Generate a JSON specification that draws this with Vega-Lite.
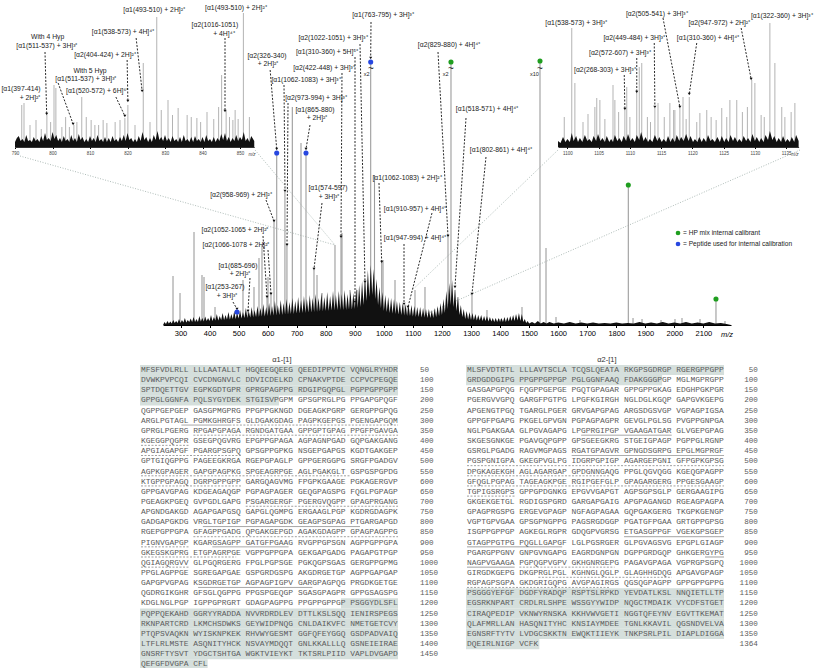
{
"$schema":"https://vega.github.io/schema/vega-lite/v6.json",
"width":817,"height":668,"autosize":"none","padding":0,"background":"white",
"config":{"view":{"stroke":null},"text":{"font":"Liberation Sans"}},
"datasets":{
"mainPeaks":[{"mz":274.2,"h":49},{"mz":298.3,"h":32},{"mz":346.5,"h":93},{"mz":374.0,"h":50},{"mz":380.9,"h":48},{"mz":418.8,"h":18},{"mz":494.5,"h":13},{"mz":515.1,"h":45},{"mz":532.4,"h":13},{"mz":553.0,"h":38},{"mz":570.2,"h":67},{"mz":580.5,"h":80},{"mz":597.8,"h":27},{"mz":601.2,"h":48},{"mz":611.5,"h":30},{"mz":621.9,"h":105},{"mz":631.2,"h":172},{"mz":659.5,"h":133},{"mz":666.4,"h":79},{"mz":684.9,"h":218},{"mz":714.8,"h":182},{"mz":732.0,"h":172},{"mz":759.5,"h":55},{"mz":769.9,"h":50},{"mz":787.1,"h":32},{"mz":831.8,"h":80},{"mz":852.5,"h":87},{"mz":855.9,"h":92},{"mz":883.5,"h":35},{"mz":900.7,"h":22},{"mz":907.6,"h":35},{"mz":935.1,"h":42},{"mz":954.7,"h":262},{"mz":967.8,"h":150},{"mz":992.6,"h":62},{"mz":997.1,"h":65},{"mz":1038.4,"h":45},{"mz":1069.4,"h":20},{"mz":1083.1,"h":17},{"mz":1107.2,"h":35},{"mz":1141.6,"h":38},{"mz":1220.8,"h":88},{"mz":1231.1,"h":262},{"mz":1244.9,"h":35},{"mz":1255.2,"h":28},{"mz":1303.4,"h":30},{"mz":1355.0,"h":15},{"mz":1399.8,"h":6},{"mz":1475.5,"h":18},{"mz":1537.5,"h":263},{"mz":1558.2,"h":77},{"mz":1592.6,"h":8},{"mz":1675.2,"h":5},{"mz":1841.5,"h":140},{"mz":1857.7,"h":7},{"mz":1888.7,"h":6},{"mz":1954.1,"h":5},{"mz":2002.2,"h":6},{"mz":2026.3,"h":7},{"mz":2088.3,"h":6},{"mz":2143.3,"h":26},{"mz":2174.3,"h":4}],
"mainNoise":[{"mz":240,"h":0},{"mz":245,"h":3},{"mz":250,"h":1},{"mz":255,"h":4},{"mz":260,"h":1.5},{"mz":265,"h":3.5},{"mz":270,"h":1.5},{"mz":275,"h":5},{"mz":280,"h":2},{"mz":285,"h":4},{"mz":290,"h":2},{"mz":295,"h":6},{"mz":300,"h":2},{"mz":305,"h":5},{"mz":310,"h":2.5},{"mz":315,"h":7},{"mz":320,"h":2.5},{"mz":325,"h":5},{"mz":330,"h":3},{"mz":335,"h":6.5},{"mz":340,"h":3},{"mz":345,"h":8},{"mz":350,"h":3},{"mz":355,"h":6},{"mz":360,"h":3},{"mz":365,"h":9},{"mz":370,"h":3.5},{"mz":375,"h":7},{"mz":380,"h":3.5},{"mz":385,"h":8.5},{"mz":390,"h":4},{"mz":395,"h":7},{"mz":400,"h":4},{"mz":405,"h":10},{"mz":410,"h":4},{"mz":415,"h":8},{"mz":420,"h":4.5},{"mz":425,"h":11},{"mz":430,"h":4.5},{"mz":435,"h":9},{"mz":440,"h":5},{"mz":445,"h":12},{"mz":450,"h":5},{"mz":455,"h":10},{"mz":460,"h":5.5},{"mz":465,"h":13},{"mz":470,"h":5.5},{"mz":475,"h":11},{"mz":480,"h":6},{"mz":485,"h":14},{"mz":490,"h":6},{"mz":495,"h":12},{"mz":500,"h":6.5},{"mz":505,"h":15},{"mz":510,"h":6.5},{"mz":515,"h":13},{"mz":520,"h":7},{"mz":525,"h":17},{"mz":530,"h":7},{"mz":535,"h":14},{"mz":540,"h":7.5},{"mz":545,"h":18},{"mz":550,"h":7.5},{"mz":555,"h":15},{"mz":560,"h":8},{"mz":565,"h":19},{"mz":570,"h":8},{"mz":575,"h":17},{"mz":580,"h":8.5},{"mz":585,"h":21},{"mz":590,"h":8.5},{"mz":595,"h":18},{"mz":600,"h":9},{"mz":605,"h":22},{"mz":610,"h":9},{"mz":615,"h":19},{"mz":620,"h":9.5},{"mz":625,"h":24},{"mz":630,"h":9.5},{"mz":635,"h":20},{"mz":640,"h":10},{"mz":645,"h":25},{"mz":650,"h":10},{"mz":655,"h":22},{"mz":660,"h":10.5},{"mz":665,"h":26},{"mz":670,"h":10.5},{"mz":675,"h":23},{"mz":680,"h":11},{"mz":685,"h":27},{"mz":690,"h":11},{"mz":695,"h":24},{"mz":700,"h":11.5},{"mz":705,"h":28},{"mz":710,"h":11.5},{"mz":715,"h":25},{"mz":720,"h":12},{"mz":725,"h":29},{"mz":730,"h":12},{"mz":735,"h":26},{"mz":740,"h":12.5},{"mz":745,"h":30},{"mz":750,"h":12.5},{"mz":755,"h":27},{"mz":760,"h":13},{"mz":765,"h":31},{"mz":770,"h":13},{"mz":775,"h":27},{"mz":780,"h":13.5},{"mz":785,"h":32},{"mz":790,"h":13.5},{"mz":795,"h":28},{"mz":800,"h":14},{"mz":805,"h":33},{"mz":810,"h":14},{"mz":815,"h":29},{"mz":820,"h":14.5},{"mz":825,"h":34},{"mz":830,"h":14.5},{"mz":835,"h":30},{"mz":840,"h":15},{"mz":845,"h":34},{"mz":850,"h":15},{"mz":855,"h":31},{"mz":860,"h":15},{"mz":865,"h":35},{"mz":870,"h":15},{"mz":875,"h":31},{"mz":880,"h":15.5},{"mz":885,"h":34},{"mz":890,"h":15.5},{"mz":895,"h":32},{"mz":900,"h":16},{"mz":905,"h":37},{"mz":910,"h":17},{"mz":915,"h":40},{"mz":920,"h":18},{"mz":925,"h":44},{"mz":930,"h":20},{"mz":935,"h":48},{"mz":940,"h":24},{"mz":945,"h":55},{"mz":950,"h":28},{"mz":955,"h":60},{"mz":960,"h":30},{"mz":965,"h":56},{"mz":970,"h":26},{"mz":975,"h":46},{"mz":980,"h":20},{"mz":985,"h":38},{"mz":990,"h":17},{"mz":995,"h":33},{"mz":1000,"h":14},{"mz":1005,"h":30},{"mz":1010,"h":13},{"mz":1015,"h":28},{"mz":1020,"h":12},{"mz":1025,"h":27},{"mz":1030,"h":11.5},{"mz":1035,"h":26},{"mz":1040,"h":11},{"mz":1045,"h":24},{"mz":1050,"h":10.5},{"mz":1055,"h":23},{"mz":1060,"h":10},{"mz":1065,"h":22},{"mz":1070,"h":9.5},{"mz":1075,"h":21},{"mz":1080,"h":9},{"mz":1085,"h":20},{"mz":1090,"h":9},{"mz":1095,"h":20},{"mz":1100,"h":8.5},{"mz":1105,"h":19},{"mz":1110,"h":8},{"mz":1115,"h":18},{"mz":1120,"h":8},{"mz":1125,"h":18},{"mz":1130,"h":7.5},{"mz":1135,"h":17},{"mz":1140,"h":7.5},{"mz":1145,"h":16},{"mz":1150,"h":7},{"mz":1155,"h":16},{"mz":1160,"h":7},{"mz":1165,"h":15},{"mz":1170,"h":7},{"mz":1175,"h":17},{"mz":1180,"h":8},{"mz":1185,"h":19},{"mz":1190,"h":9},{"mz":1195,"h":22},{"mz":1200,"h":10},{"mz":1205,"h":26},{"mz":1210,"h":12},{"mz":1215,"h":34},{"mz":1220,"h":16},{"mz":1225,"h":42},{"mz":1230,"h":20},{"mz":1235,"h":45},{"mz":1240,"h":18},{"mz":1245,"h":36},{"mz":1250,"h":14},{"mz":1255,"h":28},{"mz":1260,"h":10},{"mz":1265,"h":20},{"mz":1270,"h":8},{"mz":1275,"h":16},{"mz":1280,"h":6},{"mz":1285,"h":14},{"mz":1290,"h":5.5},{"mz":1295,"h":13},{"mz":1300,"h":5},{"mz":1305,"h":12},{"mz":1310,"h":5},{"mz":1315,"h":11},{"mz":1320,"h":4.5},{"mz":1325,"h":10},{"mz":1330,"h":4.5},{"mz":1335,"h":10},{"mz":1340,"h":4},{"mz":1345,"h":9},{"mz":1350,"h":4},{"mz":1355,"h":9},{"mz":1360,"h":3.5},{"mz":1365,"h":8},{"mz":1370,"h":3.5},{"mz":1375,"h":7},{"mz":1380,"h":3},{"mz":1385,"h":7},{"mz":1390,"h":3},{"mz":1395,"h":7},{"mz":1400,"h":3},{"mz":1405,"h":7},{"mz":1410,"h":3},{"mz":1415,"h":8},{"mz":1420,"h":3},{"mz":1425,"h":8},{"mz":1430,"h":3.5},{"mz":1435,"h":9},{"mz":1440,"h":4},{"mz":1445,"h":10},{"mz":1450,"h":4},{"mz":1455,"h":11},{"mz":1460,"h":4.5},{"mz":1465,"h":12},{"mz":1470,"h":4},{"mz":1475,"h":11},{"mz":1480,"h":3},{"mz":1485,"h":6},{"mz":1490,"h":2},{"mz":1495,"h":4},{"mz":1500,"h":1.5},{"mz":1510,"h":3},{"mz":1520,"h":1.5},{"mz":1530,"h":4},{"mz":1540,"h":1.5},{"mz":1550,"h":3},{"mz":1560,"h":1.5},{"mz":1570,"h":3},{"mz":1585,"h":1.5},{"mz":1600,"h":2.5},{"mz":1620,"h":1.5},{"mz":1640,"h":3},{"mz":1660,"h":1.5},{"mz":1680,"h":2.5},{"mz":1700,"h":1.5},{"mz":1720,"h":2.5},{"mz":1740,"h":1.5},{"mz":1760,"h":2},{"mz":1780,"h":1.5},{"mz":1800,"h":2.5},{"mz":1820,"h":1.5},{"mz":1840,"h":2},{"mz":1860,"h":1.5},{"mz":1880,"h":3},{"mz":1900,"h":1.5},{"mz":1920,"h":2.5},{"mz":1940,"h":1.5},{"mz":1960,"h":3},{"mz":1980,"h":1.5},{"mz":2000,"h":2.5},{"mz":2020,"h":1.5},{"mz":2040,"h":3},{"mz":2060,"h":1.5},{"mz":2080,"h":2.5},{"mz":2100,"h":1.5},{"mz":2120,"h":3},{"mz":2140,"h":1.5},{"mz":2160,"h":2},{"mz":2180,"h":1},{"mz":2195,"h":0}],
"mainLinks":[{"x1":-252.5,"y1":169,"x2":831.8,"y2":80},{"x1":556.5,"y1":175,"x2":831.8,"y2":80},{"x1":1599.5,"y1":175,"x2":1098.0,"y2":35},{"x1":2432.5,"y1":175,"x2":1138.2,"y2":10}],
"mainDots":[{"mz":494.5,"h":13,"use":"Peptide"},{"mz":631.2,"h":172,"use":"Peptide"},{"mz":732.0,"h":172,"use":"Peptide"},{"mz":954.7,"h":263,"use":"Peptide"},{"mz":1231.1,"h":263,"use":"Calibrant"},{"mz":1537.5,"h":264,"use":"Calibrant"},{"mz":1841.5,"h":140,"use":"Calibrant"},{"mz":2143.3,"h":26,"use":"Calibrant"}],
"mainArrows":[{"x1":608.6,"y1":255,"x2":631.2,"y2":176},{"x1":656.3,"y1":240,"x2":659.7,"y2":134},{"x1":670.1,"y1":222,"x2":666.6,"y2":80},{"x1":745.8,"y1":200,"x2":732.0,"y2":176},{"x1":787.1,"y1":122,"x2":759.5,"y2":56},{"x1":594.3,"y1":125,"x2":621.9,"y2":104},{"x1":584.0,"y1":89,"x2":597.8,"y2":28},{"x1":601.2,"y1":75,"x2":611.5,"y2":31},{"x1":539.2,"y1":47,"x2":532.4,"y2":14},{"x1":480.7,"y1":23,"x2":494.5,"y2":16},{"x1":955.8,"y1":303,"x2":954.7,"y2":267},{"x1":917.9,"y1":281,"x2":935.1,"y2":43},{"x1":900.7,"y1":268,"x2":900.7,"y2":23},{"x1":855.9,"y1":252,"x2":852.5,"y2":88},{"x1":983.3,"y1":142,"x2":992.6,"y2":63},{"x1":1165.7,"y1":112,"x2":1083.1,"y2":18},{"x1":1069.4,"y1":81,"x2":1069.4,"y2":21},{"x1":1186.4,"y1":273,"x2":1220.8,"y2":89},{"x1":1282.8,"y1":207,"x2":1244.9,"y2":38},{"x1":1351.6,"y1":168,"x2":1303.4,"y2":31}],
"mainLabels":[{"mz":597.8,"h":269,"t":"[α2(326-340)"},{"mz":601.2,"h":261,"t":"+ 2H]²⁺"},{"mz":732.0,"h":245,"t":"[α1(1062-1083) + 3H]³⁺"},{"mz":766.4,"h":227,"t":"[α2(973-994) + 3H]³⁺"},{"mz":763.0,"h":215,"t":"[α1(865-880)"},{"mz":769.9,"h":207,"t":"+ 2H]²⁺"},{"mz":807.7,"h":137,"t":"[α1(574-597)"},{"mz":811.2,"h":128,"t":"+ 3H]³⁺"},{"mz":508.3,"h":130,"t":"[α2(958-969) + 2H]²⁺"},{"mz":487.6,"h":95,"t":"[α2(1052-1065 + 2H]²⁺"},{"mz":491.1,"h":80,"t":"[α2(1066-1078 + 2H]²⁺"},{"mz":497.9,"h":59,"t":"[α1(685-696)"},{"mz":504.8,"h":51,"t":"+ 2H]²⁺"},{"mz":453.2,"h":38,"t":"[α1(253-267)"},{"mz":460.1,"h":29,"t":"+ 3H]³⁺"},{"mz":997.1,"h":310,"t":"[α1(763-795) + 3H]³⁺"},{"mz":825.0,"h":287,"t":"[α2(1022-1051) + 3H]³⁺"},{"mz":804.3,"h":273,"t":"[α1(310-360) + 5H]⁵⁺"},{"mz":794.0,"h":257,"t":"[α2(422-448) + 3H]³⁺"},{"mz":1079.7,"h":147,"t":"[α1(1062-1083) + 2H]²⁺"},{"mz":1107.2,"h":116,"t":"[α1(910-957) + 4H]⁴⁺"},{"mz":1107.2,"h":87,"t":"[α1(947-994) + 4H]⁴⁺"},{"mz":1224.3,"h":280,"t":"[α2(829-880) + 4H]⁴⁺"},{"mz":1355.0,"h":216,"t":"[α1(518-571) + 4H]⁴⁺"},{"mz":1403.2,"h":175,"t":"[α1(802-861) + 4H]⁴⁺"}],
"mainMult":[{"mz":941.0,"h":251,"t":"x2"},{"mz":1212.9,"h":251,"t":"x2"},{"mz":1518.0,"h":251,"t":"x10"}],
"mainBreaks":[{"mz":955.8,"h":256},{"mz":1231.1,"h":256},{"mz":1537.5,"h":256}],
"mainUnit":[{"mz":2181.3,"h":-10,"t":"m/z"}],
"legend":[{"mz":2012.6,"h":92,"use":"Calibrant","t":"= HP mix internal calibrant"},{"mz":2012.6,"h":81,"use":"Peptide","t":"= Peptide used for internal calibration"}],
"lPeaks":[{"mz":791.8,"h":42},{"mz":792.4,"h":44},{"mz":798.5,"h":32},{"mz":800.4,"h":62},{"mz":800.9,"h":59},{"mz":802.5,"h":20},{"mz":805.7,"h":22},{"mz":807.8,"h":50},{"mz":811.3,"h":22},{"mz":813.5,"h":27},{"mz":816.7,"h":25},{"mz":819.3,"h":29},{"mz":820.1,"h":42},{"mz":824.2,"h":84},{"mz":827.8,"h":130},{"mz":830.8,"h":47},{"mz":833.5,"h":39},{"mz":835.9,"h":32},{"mz":838.5,"h":29},{"mz":841.2,"h":35},{"mz":845.1,"h":72},{"mz":846.3,"h":37},{"mz":848.1,"h":27},{"mz":848.7,"h":37},{"mz":850.9,"h":134},{"mz":794.0,"h":22},{"mz":795.6,"h":27},{"mz":797.0,"h":18},{"mz":799.5,"h":25},{"mz":803.5,"h":30},{"mz":804.5,"h":20},{"mz":806.5,"h":25},{"mz":809.0,"h":30},{"mz":810.3,"h":27},{"mz":812.3,"h":22},{"mz":814.5,"h":24},{"mz":818.0,"h":27},{"mz":822.0,"h":22},{"mz":826.0,"h":25},{"mz":829.0,"h":37},{"mz":832.0,"h":32},{"mz":837.0,"h":30},{"mz":839.5,"h":25},{"mz":843.0,"h":28},{"mz":844.3,"h":40},{"mz":847.2,"h":30},{"mz":849.5,"h":28},{"mz":852.5,"h":30}],
"lNoise":[{"mz":790,"h":5},{"mz":790.5,"h":9},{"mz":791,"h":11},{"mz":791.5,"h":6},{"mz":792,"h":8},{"mz":792.5,"h":5},{"mz":793,"h":12},{"mz":793.5,"h":6},{"mz":794,"h":7},{"mz":794.5,"h":5},{"mz":795,"h":10},{"mz":795.5,"h":6},{"mz":796,"h":8},{"mz":796.5,"h":5},{"mz":797,"h":11},{"mz":797.5,"h":6},{"mz":798,"h":14},{"mz":798.5,"h":7},{"mz":799,"h":9},{"mz":799.5,"h":6},{"mz":800,"h":15},{"mz":800.5,"h":8},{"mz":801,"h":12},{"mz":801.5,"h":6},{"mz":802,"h":9},{"mz":802.5,"h":5},{"mz":803,"h":11},{"mz":803.5,"h":6},{"mz":804,"h":8},{"mz":804.5,"h":5},{"mz":805,"h":12},{"mz":805.5,"h":6},{"mz":806,"h":9},{"mz":806.5,"h":5},{"mz":807,"h":13},{"mz":807.5,"h":7},{"mz":808,"h":10},{"mz":808.5,"h":5},{"mz":809,"h":8},{"mz":809.5,"h":5},{"mz":810,"h":11},{"mz":810.5,"h":6},{"mz":811,"h":9},{"mz":811.5,"h":5},{"mz":812,"h":12},{"mz":812.5,"h":6},{"mz":813,"h":8},{"mz":813.5,"h":5},{"mz":814,"h":10},{"mz":814.5,"h":5},{"mz":815,"h":9},{"mz":815.5,"h":5},{"mz":816,"h":11},{"mz":816.5,"h":6},{"mz":817,"h":8},{"mz":817.5,"h":5},{"mz":818,"h":10},{"mz":818.5,"h":6},{"mz":819,"h":12},{"mz":819.5,"h":6},{"mz":820,"h":14},{"mz":820.5,"h":7},{"mz":821,"h":9},{"mz":821.5,"h":5},{"mz":822,"h":8},{"mz":822.5,"h":5},{"mz":823,"h":11},{"mz":823.5,"h":6},{"mz":824,"h":15},{"mz":824.5,"h":7},{"mz":825,"h":10},{"mz":825.5,"h":5},{"mz":826,"h":9},{"mz":826.5,"h":5},{"mz":827,"h":12},{"mz":827.5,"h":7},{"mz":828,"h":16},{"mz":828.5,"h":7},{"mz":829,"h":10},{"mz":829.5,"h":6},{"mz":830,"h":12},{"mz":830.5,"h":6},{"mz":831,"h":9},{"mz":831.5,"h":5},{"mz":832,"h":11},{"mz":832.5,"h":6},{"mz":833,"h":8},{"mz":833.5,"h":5},{"mz":834,"h":10},{"mz":834.5,"h":5},{"mz":835,"h":12},{"mz":835.5,"h":6},{"mz":836,"h":8},{"mz":836.5,"h":5},{"mz":837,"h":10},{"mz":837.5,"h":5},{"mz":838,"h":11},{"mz":838.5,"h":6},{"mz":839,"h":8},{"mz":839.5,"h":5},{"mz":840,"h":10},{"mz":840.5,"h":5},{"mz":841,"h":12},{"mz":841.5,"h":6},{"mz":842,"h":8},{"mz":842.5,"h":5},{"mz":843,"h":10},{"mz":843.5,"h":5},{"mz":844,"h":9},{"mz":844.5,"h":6},{"mz":845,"h":13},{"mz":845.5,"h":7},{"mz":846,"h":14},{"mz":846.5,"h":6},{"mz":847,"h":10},{"mz":847.5,"h":5},{"mz":848,"h":9},{"mz":848.5,"h":6},{"mz":849,"h":12},{"mz":849.5,"h":6},{"mz":850,"h":10},{"mz":850.5,"h":7},{"mz":851,"h":15},{"mz":851.5,"h":6},{"mz":852,"h":9},{"mz":852.5,"h":5},{"mz":853,"h":11},{"mz":853.8,"h":6}],
"lArrows":[{"x1":798.0,"y1":95,"x2":798.45,"y2":33},{"x1":819.9,"y1":87,"x2":820.1,"y2":46},{"x1":801.5,"y1":64,"x2":805.5,"y2":23},{"x1":816.9,"y1":50,"x2":819.3,"y2":31},{"x1":822.3,"y1":109,"x2":823.9,"y2":56},{"x1":846.0,"y1":109,"x2":846.0,"y2":36}],
"lLabels":[{"mz":791.6,"h":58,"t":"[α1(397-414)"},{"mz":794.0,"h":49,"t":"+ 2H]²⁺"},{"mz":798.7,"h":110,"t":"With 4 Hyp"},{"mz":798.5,"h":101,"t":"[α1(511-537) + 3H]³⁺"},{"mz":814.0,"h":92,"t":"[α2(404-424) + 2H]²⁺"},{"mz":810.0,"h":76,"t":"With 5 Hyp"},{"mz":808.9,"h":68,"t":"[α1(511-537) + 3H]³⁺"},{"mz":811.9,"h":56,"t":"[α1(520-572) + 6H]⁶⁺"},{"mz":818.8,"h":115,"t":"[α1(538-573) + 4H]⁴⁺"},{"mz":827.1,"h":137,"t":"[α1(493-510) + 2H]²⁺"},{"mz":848.9,"h":139,"t":"[α1(493-510) + 2H]²⁺"},{"mz":843.3,"h":122,"t":"[α2(1016-1051)"},{"mz":845.7,"h":113,"t":"+ 4H]⁴⁺"}],
"lUnit":[{"mz":853.2,"h":-8,"t":"m/z"}],
"rPeaks":[{"mz":1100.7,"h":119},{"mz":1101.2,"h":64},{"mz":1104.4,"h":40},{"mz":1104.7,"h":49},{"mz":1105.2,"h":47},{"mz":1107.3,"h":62},{"mz":1107.6,"h":47},{"mz":1109.2,"h":37},{"mz":1109.5,"h":60},{"mz":1111.1,"h":54},{"mz":1111.5,"h":80},{"mz":1111.9,"h":84},{"mz":1114.0,"h":39},{"mz":1114.5,"h":44},{"mz":1116.4,"h":44},{"mz":1117.2,"h":37},{"mz":1118.0,"h":39},{"mz":1118.5,"h":50},{"mz":1119.5,"h":50},{"mz":1121.2,"h":34},{"mz":1122.3,"h":37},{"mz":1124.7,"h":39},{"mz":1126.0,"h":47},{"mz":1127.1,"h":47},{"mz":1129.5,"h":67},{"mz":1130.0,"h":64},{"mz":1132.4,"h":124},{"mz":1133.2,"h":84},{"mz":1134.3,"h":40},{"mz":1136.4,"h":44},{"mz":1099.5,"h":30},{"mz":1102.5,"h":25},{"mz":1103.3,"h":33},{"mz":1106.0,"h":28},{"mz":1108.2,"h":35},{"mz":1110.0,"h":30},{"mz":1112.8,"h":30},{"mz":1113.3,"h":25},{"mz":1115.5,"h":30},{"mz":1117.0,"h":37},{"mz":1119.0,"h":28},{"mz":1120.7,"h":25},{"mz":1123.0,"h":30},{"mz":1123.8,"h":27},{"mz":1125.5,"h":30},{"mz":1128.0,"h":35},{"mz":1128.8,"h":40},{"mz":1131.0,"h":32},{"mz":1131.5,"h":30},{"mz":1134.8,"h":30},{"mz":1135.8,"h":35}],
"rNoise":[{"mz":1098.5,"h":6},{"mz":1098.9,"h":4},{"mz":1099.3,"h":10},{"mz":1099.7,"h":5},{"mz":1100.0,"h":8},{"mz":1100.4,"h":5},{"mz":1100.7,"h":14},{"mz":1101.0,"h":6},{"mz":1101.4,"h":11},{"mz":1101.7,"h":5},{"mz":1102.0,"h":9},{"mz":1102.4,"h":5},{"mz":1102.8,"h":12},{"mz":1103.2,"h":6},{"mz":1103.5,"h":8},{"mz":1103.9,"h":5},{"mz":1104.2,"h":11},{"mz":1104.6,"h":6},{"mz":1104.9,"h":13},{"mz":1105.3,"h":6},{"mz":1105.6,"h":9},{"mz":1106.0,"h":5},{"mz":1106.3,"h":11},{"mz":1106.7,"h":5},{"mz":1107.0,"h":8},{"mz":1107.3,"h":5},{"mz":1107.6,"h":12},{"mz":1108.0,"h":6},{"mz":1108.3,"h":9},{"mz":1108.7,"h":5},{"mz":1109.0,"h":11},{"mz":1109.4,"h":6},{"mz":1109.7,"h":13},{"mz":1110.1,"h":6},{"mz":1110.4,"h":9},{"mz":1110.8,"h":5},{"mz":1111.1,"h":12},{"mz":1111.5,"h":7},{"mz":1111.8,"h":15},{"mz":1112.2,"h":6},{"mz":1112.5,"h":10},{"mz":1112.9,"h":5},{"mz":1113.2,"h":8},{"mz":1113.6,"h":5},{"mz":1114.0,"h":12},{"mz":1114.4,"h":6},{"mz":1114.7,"h":10},{"mz":1115.1,"h":5},{"mz":1115.4,"h":8},{"mz":1115.8,"h":5},{"mz":1116.1,"h":11},{"mz":1116.5,"h":5},{"mz":1116.8,"h":9},{"mz":1117.2,"h":5},{"mz":1117.5,"h":12},{"mz":1117.9,"h":6},{"mz":1118.2,"h":10},{"mz":1118.6,"h":6},{"mz":1119.0,"h":13},{"mz":1119.4,"h":6},{"mz":1119.7,"h":11},{"mz":1120.1,"h":5},{"mz":1120.4,"h":8},{"mz":1120.8,"h":5},{"mz":1121.1,"h":10},{"mz":1121.5,"h":5},{"mz":1121.8,"h":9},{"mz":1122.2,"h":5},{"mz":1122.5,"h":12},{"mz":1122.9,"h":6},{"mz":1123.2,"h":8},{"mz":1123.6,"h":5},{"mz":1124.0,"h":10},{"mz":1124.4,"h":5},{"mz":1124.7,"h":11},{"mz":1125.1,"h":5},{"mz":1125.4,"h":9},{"mz":1125.8,"h":5},{"mz":1126.1,"h":12},{"mz":1126.5,"h":6},{"mz":1126.8,"h":10},{"mz":1127.2,"h":5},{"mz":1127.5,"h":8},{"mz":1127.9,"h":5},{"mz":1128.2,"h":11},{"mz":1128.6,"h":6},{"mz":1128.9,"h":9},{"mz":1129.3,"h":5},{"mz":1129.6,"h":13},{"mz":1130.0,"h":6},{"mz":1130.3,"h":10},{"mz":1130.7,"h":5},{"mz":1131.0,"h":9},{"mz":1131.4,"h":5},{"mz":1131.7,"h":12},{"mz":1132.1,"h":7},{"mz":1132.4,"h":16},{"mz":1132.8,"h":7},{"mz":1133.1,"h":11},{"mz":1133.5,"h":5},{"mz":1133.8,"h":9},{"mz":1134.2,"h":5},{"mz":1134.5,"h":11},{"mz":1134.9,"h":5},{"mz":1135.2,"h":8},{"mz":1135.6,"h":5},{"mz":1135.9,"h":10},{"mz":1136.3,"h":5},{"mz":1136.6,"h":12},{"mz":1137.0,"h":6}],
"rArrows":[{"x1":1115.3,"y1":129,"x2":1118.0,"y2":40},{"x1":1127.8,"y1":119,"x2":1129.4,"y2":68},{"x1":1113.9,"y1":104,"x2":1114.0,"y2":40},{"x1":1120.7,"y1":104,"x2":1119.5,"y2":53},{"x1":1111.1,"y1":89,"x2":1111.1,"y2":55},{"x1":1109.1,"y1":72,"x2":1109.2,"y2":38}],
"rLabels":[{"mz":1101.4,"h":124,"t":"[α1(538-573) + 3H]³⁺"},{"mz":1114.3,"h":133,"t":"[α2(505-541) + 3H]³⁺"},{"mz":1124.3,"h":124,"t":"[α2(947-972) + 2H]²⁺"},{"mz":1134.3,"h":131,"t":"[α1(322-360) + 3H]³⁺"},{"mz":1110.7,"h":109,"t":"[α2(449-484) + 3H]³⁺"},{"mz":1122.5,"h":109,"t":"[α1(310-360) + 4H]⁴⁺"},{"mz":1108.4,"h":94,"t":"[α2(572-607) + 3H]³⁺"},{"mz":1106.0,"h":77,"t":"[α2(268-303) + 3H]³⁺"}],
"rUnit":[{"mz":1136.4,"h":-8,"t":"m/z"}],
"a1":[{"row":1,"seq":"MFSFVDLRLL LLLAATALLT HGQEEGQEEG QEEDIPPVTC VQNGLRYHDR","num":"50"},{"row":2,"seq":"DVWKPVPCQI CVCDNGNVLC DDVICDELKD CPNAKVPTDE CCPVCPEGQE","num":"100"},{"row":3,"seq":"SPTDQETTGV EGPKGDTGPR GPRGPAGPPG RDGIPGQPGL PGPPGPPGPP","num":"150"},{"row":4,"seq":"GPPGLGGNFA PQLSYGYDEK STGISVPGPM GPSGPRGLPG PPGAPGPQGF","num":"200"},{"row":5,"seq":"QGPPGEPGEP GASGPMGPRG PPGPPGKNGD DGEAGKPGRP GERGPPGPQG","num":"250"},{"row":6,"seq":"ARGLPGTAGL PGMKGHRGFS GLDGAKGDAG PAGPKGEPGS PGENGAPGQM","num":"300"},{"row":7,"seq":"GPRGLPGERG RPGAPGPAGA RGNDGATGAA GPPGPTGPAG PPGFPGAVGA","num":"350"},{"row":8,"seq":"KGEGGPQGPR GSEGPQGVRG EPGPPGPAGA AGPAGNPGAD GQPGAKGANG","num":"400"},{"row":9,"seq":"APGIAGAPGF PGARGPSGPQ GPSGPPGPKG NSGEPGAPGS KGDTGAKGEP","num":"450"},{"row":10,"seq":"GPTGIQGPPG PAGEEGKRGA RGEPGPAGLP GPPGERGGPG SRGFPGADGV","num":"500"},{"row":11,"seq":"AGPKGPAGER GAPGPAGPKG SPGEAGRPGE AGLPGAKGLT GSPGSPGPDG","num":"550"},{"row":12,"seq":"KTGPPGPAGQ DGRPGPPGPP GARGQAGVMG FPGPKGAAGE PGKAGERGVP","num":"600"},{"row":13,"seq":"GPPGAVGPAG KDGEAGAQGP PGPAGPAGER GEQGPAGSPG FQGLPGPAGP","num":"650"},{"row":14,"seq":"PGEAGKPGEQ GVPGDLGAPG PSGARGERGF PGERGVQGPP GPAGPRGANG","num":"700"},{"row":15,"seq":"APGNDGAKGD AGAPGAPGSQ GAPGLQGMPG ERGAAGLPGP KGDRGDAGPK","num":"750"},{"row":16,"seq":"GADGAPGKDG VRGLTGPIGP PGPAGAPGDK GEAGPSGPAG PTGARGAPGD","num":"800"},{"row":17,"seq":"RGEPGPPGPA GFAGPPGADG QPGAKGEPGD AGAKGDAGPP GPAGPAGPPG","num":"850"},{"row":18,"seq":"PIGNVGAPGP KGARGSAGPP GATGFPGAAG RVGPPGPSGN AGPPGPPGPA","num":"900"},{"row":19,"seq":"GKEGSKGPRG ETGPAGRPGE VGPPGPPGPA GEKGAPGADG PAGAPGTPGP","num":"950"},{"row":20,"seq":"QGIAGQRGVV GLPGQRGERG FPGLPGPSGE PGKQGPSGAS GERGPPGPMG","num":"1000"},{"row":21,"seq":"PPGLAGPPGE SGREGAPGAE GSPGRDGSPG AKGDRGETGP AGPPGAPGAP","num":"1050"},{"row":22,"seq":"GAPGPVGPAG KSGDRGETGP AGPAGPIGPV GARGPAGPQG PRGDKGETGE","num":"1100"},{"row":23,"seq":"QGDRGIKGHR GFSGLQGPPG PPGSPGEQGP SGASGPAGPR GPPGSAGSPG","num":"1150"},{"row":24,"seq":"KDGLNGLPGP IGPPGPRGRT GDAGPAGPPG PPGPPGPPGP PSGGYDLSFL","num":"1200"},{"row":25,"seq":"PQPPQEKAHD GGRYYRADDA NVVRDRDLEV DTTLKSLSQQ IENIRSPEGS","num":"1250"},{"row":26,"seq":"RKNPARTCRD LKMCHSDWKS GEYWIDPNQG CNLDAIKVFC NMETGETCVY","num":"1300"},{"row":27,"seq":"PTQPSVAQKN WYISKNPKEK RHVWYGESMT GGFQFEYGGQ GSDPADVAIQ","num":"1350"},{"row":28,"seq":"LTFLRLMSTE ASQNITYHCK NSVAYMDQQT GNLKKALLLQ GSNEIEIRAE","num":"1400"},{"row":29,"seq":"GNSRFTYSVT YDGCTSHTGA WGKTVIEYKT TKTSRLPIID VAPLDVGAPD","num":"1450"},{"row":30,"seq":"QEFGFDVGPA CFL","num":""}],
"a2":[{"row":1,"seq":"MLSFVDTRTL LLLAVTSCLA TCQSLQEATA RKGPSGDRGP RGERGPPGPP","num":"50"},{"row":2,"seq":"GRDGDDGIPG PPGPPGPPGP PGLGGNFAAQ FDAKGGGPGP MGLMGPRGPP","num":"100"},{"row":3,"seq":"GASGAPGPQG FQGPPGEPGE PGQTGPAGAR GPPGPPGKAG EDGHPGKPGR","num":"150"},{"row":4,"seq":"PGERGVVGPQ GARGFPGTPG LPGFKGIRGH NGLDGLKGQP GAPGVKGEPG","num":"200"},{"row":5,"seq":"APGENGTPGQ TGARGLPGER GRVGAPGPAG ARGSDGSVGP VGPAGPIGSA","num":"250"},{"row":6,"seq":"GPPGFPGAPG PKGELGPVGN PGPAGPAGPR GEVGLPGLSG PVGPPGNPGA","num":"300"},{"row":7,"seq":"NGLPGAKGAA GLPGVAGAPG LPGPRGIPGP VGAAGATGAR GLVGEPGPAG","num":"350"},{"row":8,"seq":"SKGESGNKGE PGAVGQPGPP GPSGEEGKRG STGEIGPAGP PGPPGLRGNP","num":"400"},{"row":9,"seq":"GSRGLPGADG RAGVMGPAGS RGATGPAGVR GPNGDSGRPG EPGLMGPRGF","num":"450"},{"row":10,"seq":"PGSPGNIGPA GKEGPVGLPG IDGRPGPIGP AGARGEPGNI GFPGPKGPSG","num":"500"},{"row":11,"seq":"DPGKAGEKGH AGLAGARGAP GPDGNNGAQG PPGLQGVQGG KGEQGPAGPP","num":"550"},{"row":12,"seq":"GFQGLPGPAG TAGEAGKPGE RGIPGEFGLP GPAGARGERG PPGESGAAGP","num":"600"},{"row":13,"seq":"TGPIGSRGPS GPPGPDGNKG EPGVVGAPGT AGPSGPSGLP GERGAAGIPG","num":"650"},{"row":14,"seq":"GKGEKGETGL RGDIGSPGRD GARGAPGAIG APGPAGANGD RGEAGPAGPA","num":"700"},{"row":15,"seq":"GPAGPRGSPG ERGEVGPAGP NGFAGPAGAA GQPGAKGERG TKGPKGENGP","num":"750"},{"row":16,"seq":"VGPTGPVGAA GPSGPNGPPG PAGSRGDGGP PGATGFPGAA GRTGPPGPSG","num":"800"},{"row":17,"seq":"ISGPPGPPGP AGKEGLRGPR GDQGPVGRSG ETGASGPPGF VGEKGPSGEP","num":"850"},{"row":18,"seq":"GTAGPPGTPG PQGLLGAPGF LGLPGSRGER GLPGVAGSVG EPGPLGIAGP","num":"900"},{"row":19,"seq":"PGARGPPGNV GNPGVNGAPG EAGRDGNPGN DGPPGRDGQP GHKGERGYPG","num":"950"},{"row":20,"seq":"NAGPVGAAGA PGPQGPVGPV GKHGNRGEPG PAGAVGPAGA VGPRGPSGPQ","num":"1000"},{"row":21,"seq":"GIRGDKGEPG DKGPRGLPGL KGHNGLQGLP GLAGHHGDQG APGAVGPAGP","num":"1050"},{"row":22,"seq":"RGPAGPSGPA GKDGRIGQPG AVGPAGIRGS QGSQGPAGPP GPPGPPGPPG","num":"1100"},{"row":23,"seq":"PSGGGYEFGF DGDFYRADQP RSPTSLRPKD YEVDATLKSL NNQIETLLTP","num":"1150"},{"row":24,"seq":"EGSRKNPART CRDLRLSHPE WSSGYYWIDP NQGCTMDAIK VYCDFSTGET","num":"1200"},{"row":25,"seq":"CIRAQPEDIP VKNWYRNSKA KKHVWVGETI NGGTQFEYNV EGVTTKEMAT","num":"1250"},{"row":26,"seq":"QLAFMRLLAN HASQNITYHC KNSIAYMDEE TGNLKKAVIL QGSNDVELVA","num":"1300"},{"row":27,"seq":"EGNSRFTYTV LVDGCSKKTN EWQKTIIEYK TNKPSRLPIL DIAPLDIGGA","num":"1350"},{"row":28,"seq":"DQEIRLNIGP VCFK","num":"1364"}],
"a1hl":[{"row":1,"from":-0.2,"to":54},{"row":2,"from":-0.2,"to":54},{"row":3,"from":-0.2,"to":54},{"row":4,"from":-0.2,"to":29},{"row":24,"from":42,"to":54},{"row":25,"from":-0.2,"to":54},{"row":26,"from":-0.2,"to":54},{"row":27,"from":-0.2,"to":54},{"row":28,"from":-0.2,"to":54},{"row":29,"from":-0.2,"to":54},{"row":30,"from":-0.2,"to":14}],
"a2hl":[{"row":1,"from":-0.2,"to":54},{"row":2,"from":-0.2,"to":41},{"row":23,"from":-0.2,"to":54},{"row":24,"from":-0.2,"to":54},{"row":25,"from":-0.2,"to":54},{"row":26,"from":-0.2,"to":54},{"row":27,"from":-0.2,"to":54},{"row":28,"from":-0.2,"to":15.2}],
"a1ul":[{"row":6,"from":8.5,"to":19,"kind":"solid"},{"row":6,"from":19.3,"to":54,"kind":"dashed"},{"row":7,"from":11,"to":54,"kind":"dashed"},{"row":8,"from":0,"to":10,"kind":"dashed"},{"row":9,"from":0,"to":21,"kind":"dashed"},{"row":11,"from":0,"to":44,"kind":"dashed"},{"row":12,"from":0,"to":21,"kind":"dashed"},{"row":14,"from":22,"to":54,"kind":"dashed"},{"row":16,"from":13,"to":46,"kind":"solid"},{"row":17,"from":11,"to":54,"kind":"dashed"},{"row":18,"from":0,"to":10,"kind":"dashed"},{"row":18,"from":15,"to":31,"kind":"solid"},{"row":19,"from":0,"to":20,"kind":"dashed"},{"row":20,"from":0,"to":10,"kind":"dashed"},{"row":22,"from":12,"to":36,"kind":"solid"}],
"a2ul":[{"row":7,"from":24,"to":43,"kind":"solid"},{"row":9,"from":22,"to":54,"kind":"solid"},{"row":10,"from":0,"to":54,"kind":"dashed"},{"row":11,"from":0,"to":30,"kind":"dashed"},{"row":12,"from":0,"to":54,"kind":"dashed"},{"row":13,"from":0,"to":10,"kind":"dashed"},{"row":17,"from":33,"to":54,"kind":"solid"},{"row":18,"from":0,"to":20,"kind":"solid"},{"row":19,"from":50,"to":54,"kind":"solid"},{"row":20,"from":0,"to":10,"kind":"solid"},{"row":20,"from":11,"to":31,"kind":"dashed"},{"row":21,"from":15,"to":43,"kind":"dashed"},{"row":22,"from":0,"to":30,"kind":"dashed"}],
"a1head":[{"t":"α1-[1]"}],
"a2head":[{"t":"α2-[1]"}]
},
"layer":[
 {"data":{"name":"mainLinks"},"mark":{"type":"rule","color":"#9aaba6","strokeDash":[1,1.6],"strokeWidth":0.8},
  "encoding":{"x":{"field":"x1","type":"quantitative","scale":{"domain":[240,2195],"range":[163.07,731.0],"nice":false,"zero":false},"axis":null},"y":{"field":"y1","type":"quantitative","scale":{"domain":[0,325],"range":[325,0],"nice":false,"zero":false},"axis":null},"x2":{"field":"x2"},"y2":{"field":"y2"}}},
 {"data":{"name":"mainPeaks"},"mark":{"type":"rule","color":"#9c9c9c","strokeWidth":1.1},
  "encoding":{"x":{"field":"mz","type":"quantitative","scale":{"domain":[240,2195],"range":[163.07,731.0],"nice":false,"zero":false},
   "axis":{"orient":"bottom","offset":-343,"values":[300,400,500,600,700,800,900,1000,1100,1200,1300,1400,1500,1600,1700,1800,1900,2000,2100],"format":"d","title":null,"grid":false,"domain":true,"ticks":true,"labels":true,"domainColor":"#000","domainWidth":1,"tickColor":"#000","tickSize":2.5,"labelFont":"Liberation Sans","labelFontSize":7.5,"labelColor":"#000","labelPadding":2,"labelFlush":false,"labelOverlap":false,"zindex":1}},
   "y":{"field":"h","type":"quantitative","scale":{"domain":[0,325],"range":[325,0],"nice":false,"zero":false},"axis":null},"y2":{"datum":0}}},
 {"data":{"name":"mainNoise"},"mark":{"type":"area","color":"#111111"},
  "encoding":{"x":{"field":"mz","type":"quantitative","scale":{"domain":[240,2195],"range":[163.07,731.0],"nice":false,"zero":false},"axis":null},"y":{"field":"h","type":"quantitative","scale":{"domain":[0,325],"range":[325,0],"nice":false,"zero":false},"axis":null},"y2":{"datum":0}}},
 {"data":{"name":"mainArrows"},"mark":{"type":"rule","color":"#111","strokeDash":[2,1.5],"strokeWidth":0.9},
  "encoding":{"x":{"field":"x1","type":"quantitative","scale":{"domain":[240,2195],"range":[163.07,731.0],"nice":false,"zero":false},"axis":null},"y":{"field":"y1","type":"quantitative","scale":{"domain":[0,325],"range":[325,0],"nice":false,"zero":false},"axis":null},"x2":{"field":"x2"},"y2":{"field":"y2"}}},
 {"data":{"name":"mainArrows"},"mark":{"type":"point","shape":"triangle-down","filled":true,"size":9,"color":"#111","opacity":1},
  "encoding":{"x":{"field":"x2","type":"quantitative","scale":{"domain":[240,2195],"range":[163.07,731.0],"nice":false,"zero":false},"axis":null},"y":{"field":"y2","type":"quantitative","scale":{"domain":[0,325],"range":[325,0],"nice":false,"zero":false},"axis":null}}},
 {"data":{"name":"mainDots"},"mark":{"type":"point","filled":true,"size":26,"opacity":1},
  "encoding":{"x":{"field":"mz","type":"quantitative","scale":{"domain":[240,2195],"range":[163.07,731.0],"nice":false,"zero":false},"axis":null},"y":{"field":"h","type":"quantitative","scale":{"domain":[0,325],"range":[325,0],"nice":false,"zero":false},"axis":null},
   "color":{"field":"use","type":"nominal","scale":{"domain":["Calibrant","Peptide"],"range":["#1f9e1f","#2747e0"]},"legend":null}}},
 {"data":{"name":"mainBreaks"},"mark":{"type":"text","text":"~","fontSize":10,"color":"#222","baseline":"middle","align":"center"},
  "encoding":{"x":{"field":"mz","type":"quantitative","scale":{"domain":[240,2195],"range":[163.07,731.0],"nice":false,"zero":false},"axis":null},"y":{"field":"h","type":"quantitative","scale":{"domain":[0,325],"range":[325,0],"nice":false,"zero":false},"axis":null}}},
 {"data":{"name":"mainMult"},"mark":{"type":"text","fontSize":5.5,"color":"#222","baseline":"middle","align":"center"},
  "encoding":{"x":{"field":"mz","type":"quantitative","scale":{"domain":[240,2195],"range":[163.07,731.0],"nice":false,"zero":false},"axis":null},"y":{"field":"h","type":"quantitative","scale":{"domain":[0,325],"range":[325,0],"nice":false,"zero":false},"axis":null},"text":{"field":"t"}}},
 {"data":{"name":"mainLabels"},"mark":{"type":"text","fontSize":6.8,"color":"#1a1a1a","baseline":"middle","align":"center"},
  "encoding":{"x":{"field":"mz","type":"quantitative","scale":{"domain":[240,2195],"range":[163.07,731.0],"nice":false,"zero":false},"axis":null},"y":{"field":"h","type":"quantitative","scale":{"domain":[0,325],"range":[325,0],"nice":false,"zero":false},"axis":null},"text":{"field":"t"}}},
 {"data":{"name":"mainUnit"},"mark":{"type":"text","fontSize":7.5,"fontStyle":"italic","color":"#000","baseline":"middle","align":"center"},
  "encoding":{"x":{"field":"mz","type":"quantitative","scale":{"domain":[240,2195],"range":[163.07,731.0],"nice":false,"zero":false},"axis":null},"y":{"field":"h","type":"quantitative","scale":{"domain":[0,325],"range":[325,0],"nice":false,"zero":false},"axis":null},"text":{"field":"t"}}},
 {"data":{"name":"legend"},"mark":{"type":"point","filled":true,"size":22,"opacity":1},
  "encoding":{"x":{"field":"mz","type":"quantitative","scale":{"domain":[240,2195],"range":[163.07,731.0],"nice":false,"zero":false},"axis":null},"y":{"field":"h","type":"quantitative","scale":{"domain":[0,325],"range":[325,0],"nice":false,"zero":false},"axis":null},
   "color":{"field":"use","type":"nominal","scale":{"domain":["Calibrant","Peptide"],"range":["#1f9e1f","#2747e0"]},"legend":null}}},
 {"data":{"name":"legend"},"mark":{"type":"text","fontSize":6.6,"color":"#1a1a1a","baseline":"middle","align":"left","dx":5},
  "encoding":{"x":{"field":"mz","type":"quantitative","scale":{"domain":[240,2195],"range":[163.07,731.0],"nice":false,"zero":false},"axis":null},"y":{"field":"h","type":"quantitative","scale":{"domain":[0,325],"range":[325,0],"nice":false,"zero":false},"axis":null},"text":{"field":"t"}}},
 {"data":{"name":"lPeaks"},"mark":{"type":"rule","color":"#b3b3b3","strokeWidth":1},
  "encoding":{"x":{"field":"mz","type":"quantitative","scale":{"domain":[790,853.8],"range":[15,254.25],"nice":false,"zero":false},
   "axis":{"orient":"bottom","offset":-521,"values":[790,800,810,820,830,840,850],"format":"d","title":null,"grid":false,"domain":true,"ticks":true,"labels":true,"domainColor":"#000","domainWidth":0.8,"tickColor":"#000","tickSize":1.5,"labelFont":"Liberation Sans","labelFontSize":4.5,"labelColor":"#444","labelPadding":2,"labelFlush":false,"labelOverlap":false,"zindex":1}},
   "y":{"field":"h","type":"quantitative","scale":{"domain":[0,147],"range":[147,0],"nice":false,"zero":false},"axis":null},"y2":{"datum":0}}},
 {"data":{"name":"lNoise"},"mark":{"type":"area","color":"#111111"},
  "encoding":{"x":{"field":"mz","type":"quantitative","scale":{"domain":[790,853.8],"range":[15,254.25],"nice":false,"zero":false},"axis":null},"y":{"field":"h","type":"quantitative","scale":{"domain":[0,147],"range":[147,0],"nice":false,"zero":false},"axis":null},"y2":{"datum":0}}},
 {"data":{"name":"lArrows"},"mark":{"type":"rule","color":"#111","strokeDash":[2,1.5],"strokeWidth":0.9},
  "encoding":{"x":{"field":"x1","type":"quantitative","scale":{"domain":[790,853.8],"range":[15,254.25],"nice":false,"zero":false},"axis":null},"y":{"field":"y1","type":"quantitative","scale":{"domain":[0,147],"range":[147,0],"nice":false,"zero":false},"axis":null},"x2":{"field":"x2"},"y2":{"field":"y2"}}},
 {"data":{"name":"lArrows"},"mark":{"type":"point","shape":"triangle-down","filled":true,"size":9,"color":"#111","opacity":1},
  "encoding":{"x":{"field":"x2","type":"quantitative","scale":{"domain":[790,853.8],"range":[15,254.25],"nice":false,"zero":false},"axis":null},"y":{"field":"y2","type":"quantitative","scale":{"domain":[0,147],"range":[147,0],"nice":false,"zero":false},"axis":null}}},
 {"data":{"name":"lLabels"},"mark":{"type":"text","fontSize":6.8,"color":"#1a1a1a","baseline":"middle","align":"center"},
  "encoding":{"x":{"field":"mz","type":"quantitative","scale":{"domain":[790,853.8],"range":[15,254.25],"nice":false,"zero":false},"axis":null},"y":{"field":"h","type":"quantitative","scale":{"domain":[0,147],"range":[147,0],"nice":false,"zero":false},"axis":null},"text":{"field":"t"}}},
 {"data":{"name":"lUnit"},"mark":{"type":"text","fontSize":4.5,"fontStyle":"italic","color":"#444","baseline":"middle","align":"center"},
  "encoding":{"x":{"field":"mz","type":"quantitative","scale":{"domain":[790,853.8],"range":[15,254.25],"nice":false,"zero":false},"axis":null},"y":{"field":"h","type":"quantitative","scale":{"domain":[0,147],"range":[147,0],"nice":false,"zero":false},"axis":null},"text":{"field":"t"}}},
 {"data":{"name":"rPeaks"},"mark":{"type":"rule","color":"#b3b3b3","strokeWidth":1},
  "encoding":{"x":{"field":"mz","type":"quantitative","scale":{"domain":[1098.5,1137],"range":[558,798.63],"nice":false,"zero":false},
   "axis":{"orient":"bottom","offset":-521,"values":[1100,1105,1110,1115,1120,1125,1130,1135],"format":"d","title":null,"grid":false,"domain":true,"ticks":true,"labels":true,"domainColor":"#000","domainWidth":0.8,"tickColor":"#000","tickSize":1.5,"labelFont":"Liberation Sans","labelFontSize":4.5,"labelColor":"#444","labelPadding":2,"labelFlush":false,"labelOverlap":false,"zindex":1}},
   "y":{"field":"h","type":"quantitative","scale":{"domain":[0,147],"range":[147,0],"nice":false,"zero":false},"axis":null},"y2":{"datum":0}}},
 {"data":{"name":"rNoise"},"mark":{"type":"area","color":"#111111"},
  "encoding":{"x":{"field":"mz","type":"quantitative","scale":{"domain":[1098.5,1137],"range":[558,798.63],"nice":false,"zero":false},"axis":null},"y":{"field":"h","type":"quantitative","scale":{"domain":[0,147],"range":[147,0],"nice":false,"zero":false},"axis":null},"y2":{"datum":0}}},
 {"data":{"name":"rArrows"},"mark":{"type":"rule","color":"#111","strokeDash":[2,1.5],"strokeWidth":0.9},
  "encoding":{"x":{"field":"x1","type":"quantitative","scale":{"domain":[1098.5,1137],"range":[558,798.63],"nice":false,"zero":false},"axis":null},"y":{"field":"y1","type":"quantitative","scale":{"domain":[0,147],"range":[147,0],"nice":false,"zero":false},"axis":null},"x2":{"field":"x2"},"y2":{"field":"y2"}}},
 {"data":{"name":"rArrows"},"mark":{"type":"point","shape":"triangle-down","filled":true,"size":9,"color":"#111","opacity":1},
  "encoding":{"x":{"field":"x2","type":"quantitative","scale":{"domain":[1098.5,1137],"range":[558,798.63],"nice":false,"zero":false},"axis":null},"y":{"field":"y2","type":"quantitative","scale":{"domain":[0,147],"range":[147,0],"nice":false,"zero":false},"axis":null}}},
 {"data":{"name":"rLabels"},"mark":{"type":"text","fontSize":6.8,"color":"#1a1a1a","baseline":"middle","align":"center"},
  "encoding":{"x":{"field":"mz","type":"quantitative","scale":{"domain":[1098.5,1137],"range":[558,798.63],"nice":false,"zero":false},"axis":null},"y":{"field":"h","type":"quantitative","scale":{"domain":[0,147],"range":[147,0],"nice":false,"zero":false},"axis":null},"text":{"field":"t"}}},
 {"data":{"name":"rUnit"},"mark":{"type":"text","fontSize":4.5,"fontStyle":"italic","color":"#444","baseline":"middle","align":"center"},
  "encoding":{"x":{"field":"mz","type":"quantitative","scale":{"domain":[1098.5,1137],"range":[558,798.63],"nice":false,"zero":false},"axis":null},"y":{"field":"h","type":"quantitative","scale":{"domain":[0,147],"range":[147,0],"nice":false,"zero":false},"axis":null},"text":{"field":"t"}}},
 {"data":{"name":"a1hl"},"mark":{"type":"rule","color":"#d5dfdc","strokeWidth":10.2,"strokeCap":"butt"},
  "encoding":{"x":{"field":"from","type":"quantitative","scale":{"domain":[0,54],"range":[141,398.04],"nice":false,"zero":false},"axis":null},"x2":{"field":"to"},"y":{"field":"row","type":"quantitative","scale":{"domain":[1,30],"range":[370,664.35],"nice":false,"zero":false},"axis":null}}},
 {"data":{"name":"a1ul"},"mark":{"type":"rule","color":"#777","strokeWidth":0.7,"yOffset":4.3},
  "encoding":{"x":{"field":"from","type":"quantitative","scale":{"domain":[0,54],"range":[141,398.04],"nice":false,"zero":false},"axis":null},"x2":{"field":"to"},"y":{"field":"row","type":"quantitative","scale":{"domain":[1,30],"range":[370,664.35],"nice":false,"zero":false},"axis":null},
   "strokeDash":{"field":"kind","type":"nominal","scale":{"domain":["solid","dashed"],"range":[[1,0],[2,1.5]]},"legend":null}}},
 {"data":{"name":"a1"},"mark":{"type":"text","font":"Liberation Mono","fontSize":7.93,"color":"#5c5c5c","align":"left","baseline":"middle"},
  "encoding":{"x":{"datum":0,"type":"quantitative","scale":{"domain":[0,54],"range":[141,398.04],"nice":false,"zero":false},"axis":null},"y":{"field":"row","type":"quantitative","scale":{"domain":[1,30],"range":[370,664.35],"nice":false,"zero":false},"axis":null},"text":{"field":"seq"}}},
 {"data":{"name":"a1"},"mark":{"type":"text","font":"Liberation Mono","fontSize":7.6,"color":"#5c5c5c","align":"left","baseline":"middle"},
  "encoding":{"x":{"datum":58.6,"type":"quantitative","scale":{"domain":[0,54],"range":[141,398.04],"nice":false,"zero":false},"axis":null},"y":{"field":"row","type":"quantitative","scale":{"domain":[1,30],"range":[370,664.35],"nice":false,"zero":false},"axis":null},"text":{"field":"num"}}},
 {"data":{"name":"a1head"},"mark":{"type":"text","fontSize":7.5,"color":"#333","align":"center","baseline":"middle"},
  "encoding":{"x":{"datum":29.6,"type":"quantitative","scale":{"domain":[0,54],"range":[141,398.04],"nice":false,"zero":false},"axis":null},"y":{"datum":0,"type":"quantitative","scale":{"domain":[1,30],"range":[370,664.35],"nice":false,"zero":false},"axis":null},"text":{"field":"t"}}},
 {"data":{"name":"a2hl"},"mark":{"type":"rule","color":"#d5dfdc","strokeWidth":10.2,"strokeCap":"butt"},
  "encoding":{"x":{"field":"from","type":"quantitative","scale":{"domain":[0,54],"range":[467,724.04],"nice":false,"zero":false},"axis":null},"x2":{"field":"to"},"y":{"field":"row","type":"quantitative","scale":{"domain":[1,30],"range":[370,664.35],"nice":false,"zero":false},"axis":null}}},
 {"data":{"name":"a2ul"},"mark":{"type":"rule","color":"#777","strokeWidth":0.7,"yOffset":4.3},
  "encoding":{"x":{"field":"from","type":"quantitative","scale":{"domain":[0,54],"range":[467,724.04],"nice":false,"zero":false},"axis":null},"x2":{"field":"to"},"y":{"field":"row","type":"quantitative","scale":{"domain":[1,30],"range":[370,664.35],"nice":false,"zero":false},"axis":null},
   "strokeDash":{"field":"kind","type":"nominal","scale":{"domain":["solid","dashed"],"range":[[1,0],[2,1.5]]},"legend":null}}},
 {"data":{"name":"a2"},"mark":{"type":"text","font":"Liberation Mono","fontSize":7.93,"color":"#5c5c5c","align":"left","baseline":"middle"},
  "encoding":{"x":{"datum":0,"type":"quantitative","scale":{"domain":[0,54],"range":[467,724.04],"nice":false,"zero":false},"axis":null},"y":{"field":"row","type":"quantitative","scale":{"domain":[1,30],"range":[370,664.35],"nice":false,"zero":false},"axis":null},"text":{"field":"seq"}}},
 {"data":{"name":"a2"},"mark":{"type":"text","font":"Liberation Mono","fontSize":7.6,"color":"#5c5c5c","align":"right","baseline":"middle"},
  "encoding":{"x":{"datum":61.1,"type":"quantitative","scale":{"domain":[0,54],"range":[467,724.04],"nice":false,"zero":false},"axis":null},"y":{"field":"row","type":"quantitative","scale":{"domain":[1,30],"range":[370,664.35],"nice":false,"zero":false},"axis":null},"text":{"field":"num"}}},
 {"data":{"name":"a2head"},"mark":{"type":"text","fontSize":7.5,"color":"#333","align":"center","baseline":"middle"},
  "encoding":{"x":{"datum":29.4,"type":"quantitative","scale":{"domain":[0,54],"range":[467,724.04],"nice":false,"zero":false},"axis":null},"y":{"datum":0,"type":"quantitative","scale":{"domain":[1,30],"range":[370,664.35],"nice":false,"zero":false},"axis":null},"text":{"field":"t"}}}
],
"resolve":{"scale":{"x":"independent","y":"independent","color":"independent","strokeDash":"independent"},"axis":{"x":"independent","y":"independent"}}
}
